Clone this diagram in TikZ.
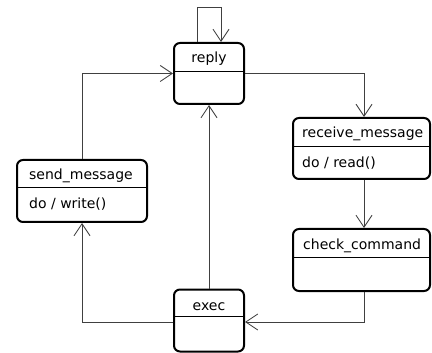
\documentclass[tikz,border=0pt]{standalone}
\usepackage{fontspec}
\setmainfont{DejaVu Sans}
\usetikzlibrary{arrows.meta,positioning}
\tikzset{
    state box/.style={draw=black, line width=2pt, rounded corners=6pt, fill=white}, % the outline of each state
    title/.style={font=\fontsize{14}{16}\selectfont, inner sep=0pt},
    conn/.style={draw=black!75, line width=0.9pt, -{Straight Barb[length=12pt,width=16pt,line width=0.9pt]}},
}
\begin{document}
\begin{tikzpicture}[x=1pt,y=-1pt]
  \useasboundingbox (0,0) rectangle (432,353);

  % the five states, boxes first
  \node[state box, minimum width=70pt,  minimum height=61pt] (reply)   at (209,73.5)   {};
  \node[state box, minimum width=137pt, minimum height=61pt] (receive) at (361.5,148.5) {};
  \node[state box, minimum width=137pt, minimum height=62pt] (check)   at (361.5,260)   {};
  \node[state box, minimum width=70pt,  minimum height=62pt] (exec)    at (209,320.5)   {};
  \node[state box, minimum width=130pt, minimum height=62pt] (send)    at (82,191)      {};

  % dividers
  \draw[line width=0.9pt] ([yshift=-29pt]reply.north west)   -- ([yshift=-29pt]reply.north east);
  \draw[line width=0.9pt] ([yshift=-29pt]receive.north west) -- ([yshift=-29pt]receive.north east);
  \draw[line width=0.9pt] ([yshift=-29pt]check.north west)   -- ([yshift=-29pt]check.north east);
  \draw[line width=0.9pt] ([yshift=-28pt]exec.north west)    -- ([yshift=-28pt]exec.north east);
  \draw[line width=0.9pt] ([yshift=-28pt]send.north west)    -- ([yshift=-28pt]send.north east);

  % texts
  \node[title] (reply_t)   at ([yshift=-17pt]reply.north) {reply};
  \node[title,anchor=west] (receive_t) at ([xshift=10pt,yshift=-17pt]receive.north west) {receive\_message};
  \node[title,anchor=west] (receive_d) at ([xshift=10pt,yshift=-46pt]receive.north west) {do / read()};
  \node[title,anchor=west] (check_t)   at ([xshift=11pt,yshift=-18pt]check.north west) {check\_command};
  \node[title] (exec_t)    at ([yshift=-18pt]exec.north) {exec};
  \node[title,anchor=west] (send_t)    at ([xshift=13pt,yshift=-17pt]send.north west) {send\_message};
  \node[title,anchor=west] (send_d)    at ([xshift=13pt,yshift=-45pt]send.north west) {do / write()};

  % transitions
  \draw[conn] ([xshift=-12pt]reply.north) -- ++(0,-35) -| ([xshift=12pt]reply.north);
  \draw[conn] (reply.east) -| ([xshift=2.5pt]receive.north);
  \draw[conn] ([xshift=2.5pt]receive.south) -- ([xshift=2.5pt]check.north);
  \draw[conn] ([xshift=3pt]check.south) |- ([yshift=-1.5pt]exec.east);
  \draw[conn] (exec) -- (reply);
  \draw[conn] ([yshift=-1.5pt]exec.west) -| (send.south);
  \draw[conn] (send.north) |- (reply.west);
\end{tikzpicture}
\end{document}
